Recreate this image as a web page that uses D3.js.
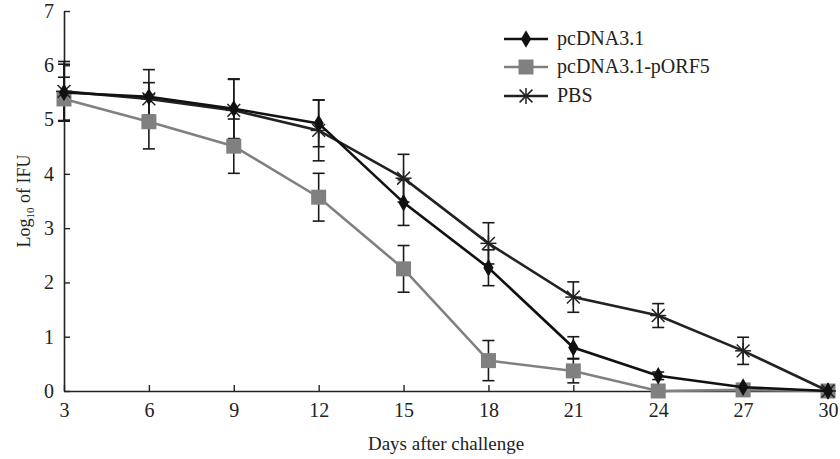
<!DOCTYPE html>
<html><head><meta charset="utf-8">
<script src="https://cdn.jsdelivr.net/npm/d3@7"></script>
<style>body{margin:0;background:#fff}svg{display:block}text{font-family:"Liberation Serif","Times New Roman",serif;fill:#222}</style>
</head><body><svg id="c" width="840" height="459"></svg>
<script>
const days = [3,6,9,12,15,18,21,24,27,30];
const yTicks = [0,1,2,3,4,5,6,7];
const seriesNames = ["pcDNA3.1","pcDNA3.1-pORF5","PBS"];
const pcdnaVals = [5.50,5.42,5.20,4.93,3.47,2.27,0.80,0.28,0.07,0];
const pcdnaErr  = [0.52,0.50,0.55,0.43,0.42,0.33,0.20,0.07,0.05,0];
const porf5Vals = [5.38,4.96,4.51,3.57,2.25,0.56,0.37,0,0.02,0];
const porf5Err  = [0.40,0.50,0.50,0.44,0.43,0.37,0.22,0,0,0];
const pbsVals   = [5.52,5.38,5.17,4.80,3.92,2.72,1.73,1.39,0.74,0];
const pbsErr    = [0.55,0.30,0.57,0.56,0.44,0.38,0.28,0.22,0.25,0];

const FONT = "Liberation Serif";
const svg = d3.select("#c");
const x = d3.scaleLinear().domain([3,30]).range([64,828]);
const y = d3.scaleLinear().domain([0,7]).range([391,11]);

// axes
const xAxis = d3.axisBottom(x).tickValues(days).tickFormat(d3.format("d")).tickSizeInner(-6).tickSizeOuter(0).tickPadding(12);
const gx = svg.append("g").attr("transform","translate(0,391)").call(xAxis);
const yAxis = d3.axisLeft(y).tickValues(yTicks).tickFormat(d3.format("d")).tickSizeInner(-6).tickSizeOuter(0).tickPadding(10);
const gy = svg.append("g").attr("transform","translate(64,0)").call(yAxis);
[gx,gy].forEach(g=>{
  g.attr("font-family",FONT);
  g.select(".domain").attr("stroke","#222").attr("stroke-width",1.6);
  g.selectAll(".tick line").attr("stroke","#222").attr("stroke-width",1.4);
  g.selectAll(".tick text").attr("font-family",FONT).style("font-size","20px").attr("fill","#222");
});

// labels
const yl = svg.append("text").attr("transform","translate(30,201) rotate(-90)").attr("text-anchor","middle").attr("font-family",FONT).style("font-size","18px");
yl.append("tspan").text("Log");
yl.append("tspan").text("10").style("font-size","11px").attr("dy",4);
yl.append("tspan").text(" of IFU").attr("dy",-4);
svg.append("text").attr("x",446).attr("y",450).attr("text-anchor","middle").attr("font-family",FONT).style("font-size","19px").text("Days after challenge");

const series = [
  {name:seriesNames[0], vals:pcdnaVals, err:pcdnaErr, color:"#111", marker:"diamond"},
  {name:seriesNames[1], vals:porf5Vals, err:porf5Err, color:"#808080", marker:"square"},
  {name:seriesNames[2], vals:pbsVals, err:pbsErr, color:"#222", marker:"star"}
];

function drawMarker(g, type, cx, cy, color){
  if(type==="diamond"){
    g.append("path").attr("d",d3.symbol(d3.symbolDiamond,90)()).attr("transform",`translate(${cx},${cy})`).attr("fill",color);
  } else if(type==="square"){
    g.append("rect").attr("x",cx-7.5).attr("y",cy-7.5).attr("width",15).attr("height",15).attr("fill",color);
  } else {
    const r=8;
    const p = [[-r,0,r,0],[-r*0.8,-r*0.8,r*0.8,r*0.8],[-r*0.8,r*0.8,r*0.8,-r*0.8],[0,-r,0,r]];
    p.forEach(a=>g.append("line").attr("x1",cx+a[0]).attr("y1",cy+a[1]).attr("x2",cx+a[2]).attr("y2",cy+a[3]).attr("stroke",color).attr("stroke-width",1.5));
  }
}

// error bars
series.forEach(s=>{
  const g = svg.append("g");
  days.forEach((d,i)=>{
    if(s.err[i]<=0) return;
    const cx=x(d), t=y(s.vals[i]+s.err[i]), b=y(Math.max(0,s.vals[i]-s.err[i]));
    g.append("line").attr("x1",cx).attr("x2",cx).attr("y1",t).attr("y2",b).attr("stroke","#1a1a1a").attr("stroke-width",1.6);
    [t,b].forEach(yy=>g.append("line").attr("x1",cx-6).attr("x2",cx+6).attr("y1",yy).attr("y2",yy).attr("stroke","#1a1a1a").attr("stroke-width",1.6));
  });
});

const line = d3.line().x((d,i)=>x(days[i])).y(d=>y(d));
[series[1],series[2],series[0]].forEach(s=>{
  svg.append("path").datum(s.vals).attr("d",line).attr("fill","none").attr("stroke",s.color).attr("stroke-width",2.6);
  const g = svg.append("g");
  s.vals.forEach((v,i)=>drawMarker(g,s.marker,x(days[i]),y(v),s.color));
});

// legend
const legY=[39,67,96];
series.forEach((s,i)=>{
  const g = svg.append("g");
  g.append("line").attr("x1",504).attr("x2",548).attr("y1",legY[i]).attr("y2",legY[i]).attr("stroke",s.color).attr("stroke-width",2.6);
  drawMarker(g,s.marker,526,legY[i],s.color);
  g.append("text").attr("x",557).attr("y",legY[i]+6).attr("font-family",FONT).style("font-size","20px").text(s.name);
});
</script></body></html>
